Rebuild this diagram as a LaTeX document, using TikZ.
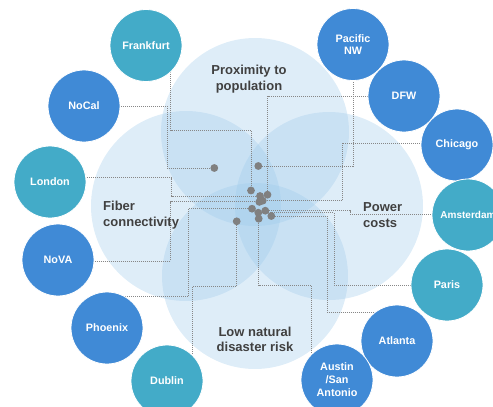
\documentclass[tikz,border=0pt]{standalone}
\usepackage{fontspec}
\setmainfont{Liberation Sans}
\definecolor{zonefill}{RGB}{156,201,234}
\definecolor{labelgray}{RGB}{64,64,64}
\definecolor{cityteal}{RGB}{67,171,200}
\definecolor{cityblue}{RGB}{64,138,214}
\definecolor{sitegray}{RGB}{128,128,128}
\definecolor{linegray}{RGB}{135,135,135}
\pgfdeclarelayer{zones}
\pgfdeclarelayer{links}
\pgfsetlayers{zones,links,main}
\begin{document}
\begin{tikzpicture}[x=1pt,y=-1pt,
  zone/.style={fill=zonefill,fill opacity=0.33},
  zonelabel/.style={font=\fontsize{13}{15.5}\selectfont\bfseries,text=labelgray,inner sep=0},
  city/.style={circle,minimum size=72pt,inner sep=0,draw=white,line width=0.8pt,
    text=white,align=center,font=\fontsize{10.8}{12.5}\selectfont\bfseries},
  citya/.style={city,fill=cityteal},
  cityb/.style={city,fill=cityblue},
  site/.style={circle,fill=sitegray,minimum size=7.8pt,inner sep=0},
  conn/.style={draw=linegray,line width=1pt,dash pattern=on 1pt off 1pt}]
\useasboundingbox (0,0) rectangle (493,407);

% four overlapping criteria zones
\begin{pgfonlayer}{zones}
  \fill[zone] (255,132) circle (94pt);
  \fill[zone] (186,206) circle (95pt);
  \fill[zone] (329,206) circle (94pt);
  \fill[zone] (255,276) circle (93pt);
\end{pgfonlayer}

% zone captions
\node[zonelabel,align=center] (prox) at (249,79) {Proximity to\\population};
\node[zonelabel,align=left,anchor=west] (fiber) at (103,215) {Fiber\\connectivity};
\node[zonelabel,align=left,anchor=west] (power) at (363,215) {Power\\costs};
\node[zonelabel,align=center] (risk) at (255,339.5) {Low natural\\disaster risk};

% sites
\node[site] (d1)  at (251,190.5) {};
\node[site] (d2)  at (214.3,168) {};
\node[site] (d3)  at (260,196) {};
\node[site] (d4)  at (258.3,166) {};
\node[site] (d5)  at (267.5,194.7) {};
\node[site] (d6)  at (262.7,200.7) {};
\node[site] (d7)  at (259.3,201.9) {};
\node[site] (d8)  at (252,208.7) {};
\node[site] (d9)  at (236.7,221.3) {};
\node[site] (d10) at (258.7,218.7) {};
\node[site] (d11) at (271.3,216) {};
\node[site] (d12) at (258.3,212.7) {};
\node[site] (d13) at (265.3,210.7) {};

% regions
\node[citya] (frankfurt) at (146,45.5) {Frankfurt};
\node[cityb] (nocal)     at (84,106)   {NoCal};
\node[citya] (london)    at (50,182)   {London};
\node[cityb] (nova)      at (58,260)   {NoVA};
\node[cityb] (phoenix)   at (107,328)  {Phoenix};
\node[citya] (dublin)    at (167,381)  {Dublin};
\node[cityb] (pnw)       at (353,44.5) {Pacific\\NW};
\node[cityb] (dfw)       at (404,96)   {DFW};
\node[cityb] (chicago)   at (457,145)  {Chicago};
\node[citya,font=\fontsize{10}{12}\selectfont\bfseries] (amsterdam) at (468,215) {Amsterdam};
\node[citya] (paris)     at (447,285)  {Paris};
\node[cityb] (atlanta)   at (397,341)  {Atlanta};
\node[cityb,font=\fontsize{10.8}{13}\selectfont\bfseries] (austin) at (337,380) {Austin\\/San\\Antonio};

% leader lines from each site to its region
\begin{pgfonlayer}{links}
  \draw[conn] (d1) |- (170.7,130.5) -- (170.7,0 |- frankfurt.center);
  \draw[conn] (d2) -| (167.3,106) -- (nocal);
  \draw[conn] (d3) -| (171.7,177.7) -- (london.center |- 0,177.7);
  \draw[conn] (d4) -| (pnw);
  \draw[conn] (d5) |- (dfw);
  \draw[conn] (d6) -| (342.3,143.3) -- (chicago.center |- 0,143.3);
  \draw[conn] (d7) -| (170.7,261) -- (nova.center |- 0,261);
  \draw[conn] (d8) -| (188.3,296.7) -- (phoenix.center |- 0,296.7);
  \draw[conn] (d9) |- (192.3,286.7) -- (192.3,0 |- dublin.center);
  \draw[conn] (d10) |- (311.7,285.3) -- (311.7,0 |- austin.center);
  \draw[conn] (d11) -| (327.3,312.7) -- (atlanta.center |- 0,312.7);
  \draw[conn] (d12) -| (334.3,285) -- (paris);
  \draw[conn] (d13) -| (350,214.3) -- (amsterdam.center |- 0,214.3);
\end{pgfonlayer}
\end{tikzpicture}
\end{document}
